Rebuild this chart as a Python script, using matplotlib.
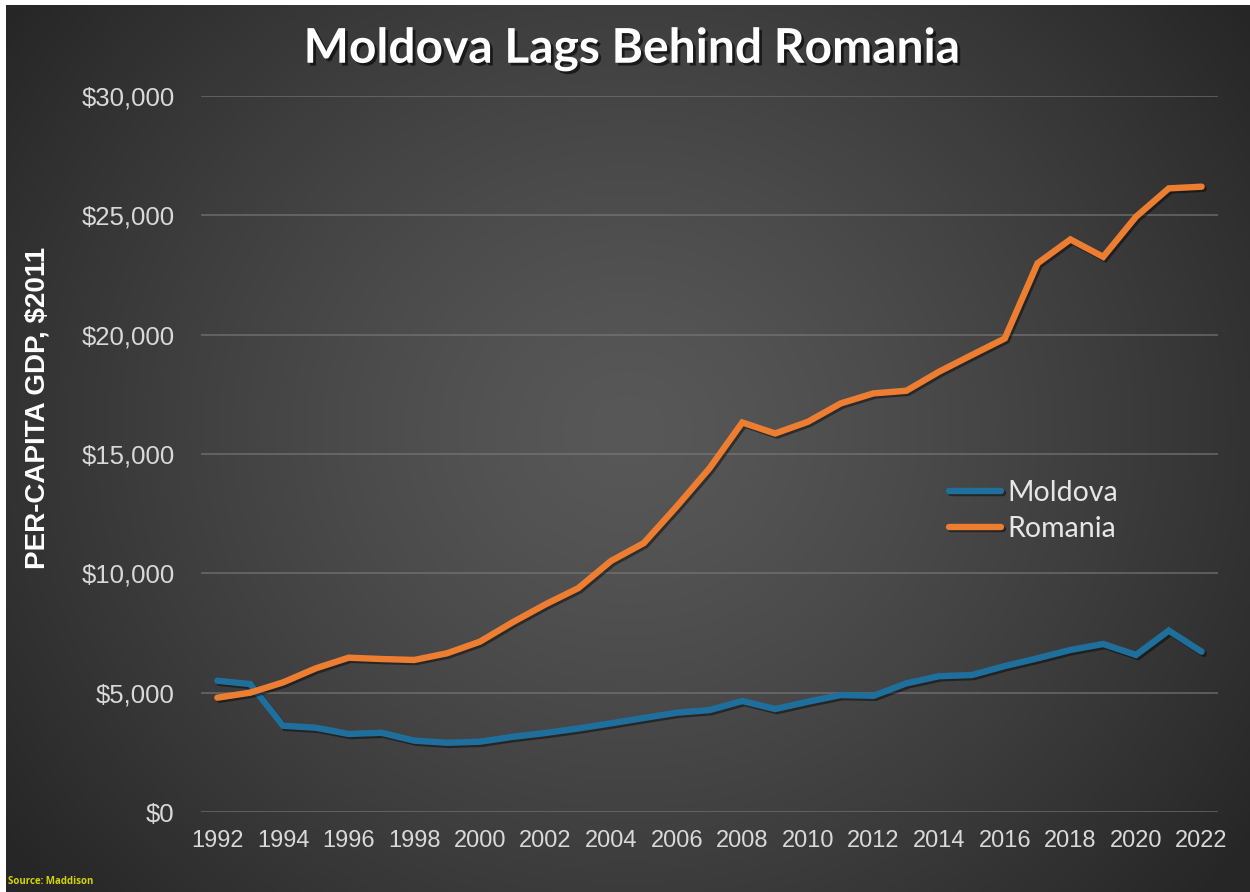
import numpy as np
import matplotlib
matplotlib.use("Agg")
import matplotlib.pyplot as plt
import matplotlib.patheffects as pe
from matplotlib.colors import to_rgb

years = list(range(1992, 2023))
moldova = [5500, 5360, 3615, 3530, 3270, 3320, 2990, 2900, 2945, 3150,
           3310, 3500, 3715, 3940, 4160, 4270, 4650, 4315, 4620, 4900,
           4870, 5390, 5690, 5740, 6115, 6440, 6790, 7040, 6580, 7600, 6715]
romania = [4790, 5000, 5430, 6020, 6465, 6410, 6370, 6650, 7135, 7950,
           8700, 9380, 10520, 11270, 12800, 14400, 16320, 15860, 16350, 17120,
           17540, 17650, 18450, 19150, 19840, 22990, 23990, 23260, 24940, 26130, 26200]
yticks = [0, 5000, 10000, 15000, 20000, 25000, 30000]
xticks = list(range(1992, 2023, 2))
title = "Moldova Lags Behind Romania"
ylabel = "PER-CAPITA GDP, $2011"
source = "Source: Maddison"

W, H = 1250, 892
fig = plt.figure(figsize=(W / 100, H / 100), dpi=100, facecolor="white")

# radial gradient background
bg = fig.add_axes([6 / W, 0, 1 - 6 / W, 887 / H])
bg.set_axis_off()
ny, nx = 400, 560
yy, xx = np.mgrid[0:ny, 0:nx]
u = xx / (nx - 1)
v = yy / (ny - 1)
r = np.sqrt(((u - 0.5) / 0.62) ** 2 + ((v - 0.48) / 0.80) ** 2)
t = np.clip(r, 0, 1) ** 1.3
c_in = np.array(to_rgb("#585858"))
c_out = np.array(to_rgb("#262626"))
img = c_in[None, None, :] * (1 - t[..., None]) + c_out[None, None, :] * t[..., None]
bg.imshow(img, aspect="auto", extent=[0, 1, 0, 1], interpolation="bilinear")

ax = fig.add_axes([201 / W, 1 - 812 / H, (1218 - 201) / W, (812 - 96) / H])
ax.set_facecolor("none")
for s in ax.spines.values():
    s.set_visible(False)

shadow = [pe.SimpleLineShadow(offset=(1.5, -1.5), shadow_color="black", alpha=0.45), pe.Normal()]
ax.plot(years, moldova, color="#1f6f9c", lw=4.6, solid_capstyle="round",
        solid_joinstyle="miter", label="Moldova", path_effects=shadow, zorder=3)
ax.plot(years, romania, color="#ed7d31", lw=4.6, solid_capstyle="round",
        solid_joinstyle="miter", label="Romania", path_effects=shadow, zorder=4)

ax.set_xlim(1991.5, 2022.5)
ax.set_ylim(0, 30000)
ax.set_yticks(yticks)
ax.set_yticklabels([f"${v:,}" for v in yticks])
ax.set_xticks(xticks)
ax.set_xticklabels([str(x) for x in xticks])
ax.grid(axis="y", color="#7a7a7a", lw=1.4, alpha=0.6)
ax.set_axisbelow(True)
ax.tick_params(axis="both", length=0, colors="#d9d9d9")
ax.tick_params(axis="y", pad=19, labelsize=18.5)
ax.tick_params(axis="x", pad=13, labelsize=17)
for lab in ax.get_xticklabels() + ax.get_yticklabels():
    lab.set_family(["Liberation Sans", "DejaVu Sans"])

leg = ax.legend(loc="upper left", bbox_to_anchor=((923 - 201) / (1218 - 201), (812 - 454) / (812 - 96)),
                frameon=False, handlelength=1.85, handletextpad=0.2, labelspacing=0.35,
                prop={"family": ["Lato", "DejaVu Sans"], "size": 20.5})
for txt in leg.get_texts():
    txt.set_color("#e6e6e6")

fig.text(631 / W, 1 - 49 / H, title, ha="center", va="center", color="white",
         fontsize=34.5, fontweight="bold", family=["Lato", "DejaVu Sans"],
         path_effects=[pe.withSimplePatchShadow(offset=(2, -2), shadow_rgbFace="black", alpha=0.6)])

fig.text(38 / W, 1 - 408 / H, ylabel, ha="center", va="center", rotation=90,
         color="white", fontsize=20, fontweight="bold",
         family=["Liberation Sans Narrow", "Liberation Sans", "DejaVu Sans"])

fig.text(8 / W, 1 - 882 / H, source, ha="left", va="center", color="#d4d400",
         fontsize=7, fontweight="bold", family=["Open Sans", "DejaVu Sans"])

fig.savefig("out.png", dpi=100, facecolor="white")
